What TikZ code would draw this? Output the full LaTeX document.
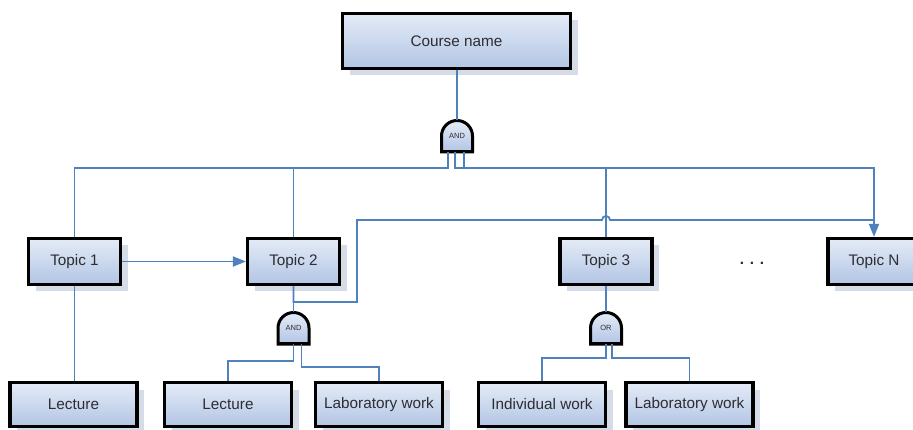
\documentclass[tikz,border=0pt]{standalone}
\usepackage{fontspec}
\setmainfont{Liberation Sans}
\usetikzlibrary{arrows.meta,calc,shadows}
\definecolor{linkblue}{RGB}{79,129,189}
\definecolor{boxlight}{RGB}{228,235,247}
\definecolor{boxdark}{RGB}{178,197,228}
\definecolor{shadowgray}{RGB}{214,220,231}
\definecolor{txtgray}{RGB}{45,45,50}
\newcommand \mygate[3]
{
\draw[gateline] ($(#2)+(-15.5,-16)$) -- ++(0,16)
  arc[start angle=180, end angle=0, radius=15.5] -- ++(0,-16) -- cycle; % dome
\draw[black, line width=2pt] ($(#2)+(-15.5,-15)$) -- ++(31,0);          % heavy foot
\node[gatelbl] (#1) at (#2) {#3};
}

\begin{document}
\begin{tikzpicture}[x=1pt, y=1pt,
  box/.style={draw=black, line width=3.2pt, top color=boxlight, bottom color=boxdark,
    drop shadow={shadow xshift=7pt, shadow yshift=-7pt, fill=shadowgray, opacity=1},
    minimum width=92pt, minimum height=46pt, inner sep=0pt,
    text=txtgray, font=\fontsize{15.3}{17}\selectfont},
  leaf/.style={box, minimum width=127pt, minimum height=44pt},
  gateline/.style={draw=black, line width=3pt, top color=boxlight, bottom color=boxdark},
  gatelbl/.style={minimum width=31pt, minimum height=32pt, inner sep=0pt,
    text=txtgray, font=\fontsize{7.5}{8}\selectfont},
  link/.style={draw=linkblue, line width=1.8pt},
  tip/.style={-{Triangle[length=13pt,width=10pt]}}]
\useasboundingbox (0,0) rectangle (913,-430);
% boxes
\node[box, minimum width=228pt, minimum height=55pt] (cn) at (456.5,-41) {Course name};
\node[box] (t1) at (74.5,-261.5) {Topic 1};
\node[box] (t2) at (293.5,-261.5) {Topic 2};
\node[box] (t3) at (606,-261.5) {Topic 3};
\node[box] (tN) at (874,-261.5) {Topic N};
\node[text=txtgray, font=\fontsize{15.3}{17}\selectfont\bfseries] (dots) at (752,-263) {. . .};
\node[leaf] (l1) at (73.5,-404.5) {Lecture};
\node[leaf] (l2) at (228,-404.5) {Lecture};
\node[leaf] (w2) at (379,-404.5) {Laboratory work};
\node[leaf] (i3) at (542,-404.5) {Individual work};
\node[leaf] (w3) at (689.5,-404.5) {Laboratory work};
% gates
\mygate{gA}{457,-136}{AND}
\mygate{g2}{293.5,-328}{AND}
\mygate{g3}{606,-328}{OR}
\coordinate (nj) at (874,-220);
% links
\draw[link] (cn.south -| gA.north) -- (gA.north);
\draw[link] ($(gA.south)+(-9,0)$) -- ++(0,-16) -| (t1.north);
\draw[link] ($(gA.south)+(-9,0)$) -- ++(0,-16) -| (t2.north);
\draw[link] ($(gA.south)+(-2,0)$) -- ++(0,-16) -| (t3.north);
\draw[link,tip] ($(gA.south)+(7,0)$) -- ++(0,-16) -| (tN.north);
\draw[link,tip] (t1) -- (t2);
\draw[link] (t1.south) -- (t1.south |- l1.north);
\draw[link] (t2.south) |- (357,-302) |- (602,-220)
  arc[start angle=180, end angle=0, radius=4] -- (nj);
\draw[link] (t2.south) -- (g2.north);
\draw[link] (g2.south) -- ++(0,-17) -| (l2.north);
\draw[link] ($(g2.south)+(8,0)$) -- ++(0,-23) -| (w2.north);
\draw[link] (t3.south) -- (g3.north);
\draw[link] (g3.south) -- ++(0,-14) -| (i3.north);
\draw[link] ($(g3.south)+(6,0)$) -- ++(0,-14) -| (w3.north);
\end{tikzpicture}
\end{document}
